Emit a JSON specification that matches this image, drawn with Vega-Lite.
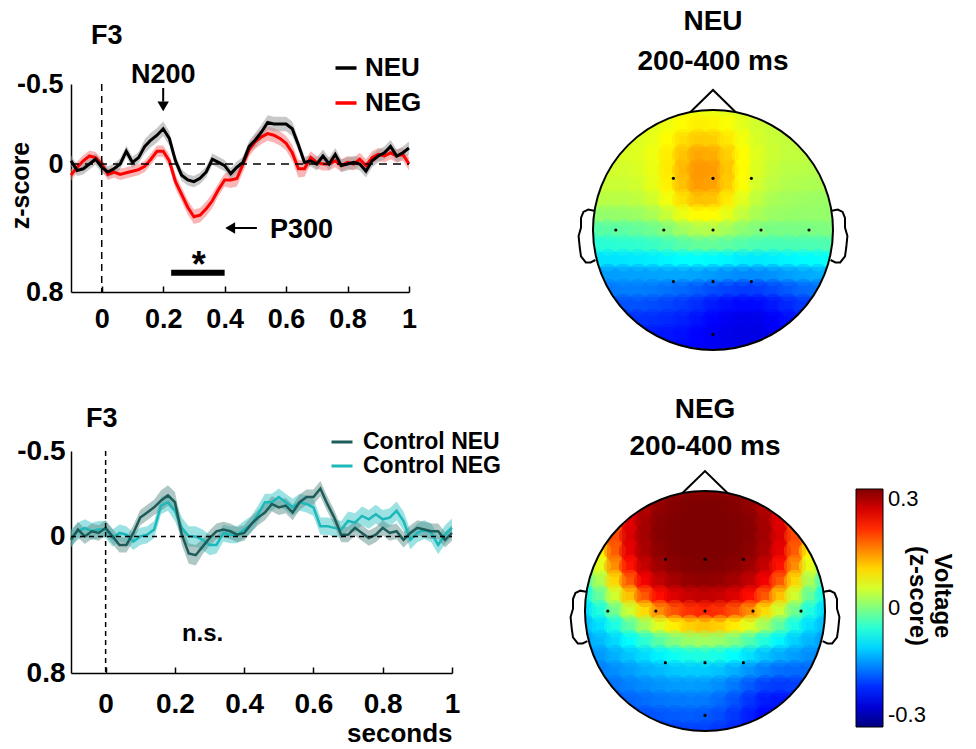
{
"$schema":"https://vega.github.io/schema/vega-lite/v6.json",
"background":"white",
"padding":{"left":8,"top":8,"right":0,"bottom":0},
"config":{"view":{"stroke":null},"font":"Liberation Sans",
"axis":{"grid":false,"domainColor":"black","domainWidth":1.5,"labelColor":"black","titleColor":"black","labelFont":"Liberation Sans","titleFont":"Liberation Sans","labelFontWeight":"bold","titleFontWeight":"bold","tickColor":"black"},
"title":{"font":"Liberation Sans","color":"black","subtitleFont":"Liberation Sans","subtitleColor":"black"},
"legend":{"labelColor":"black","titleColor":"black","labelFont":"Liberation Sans","titleFont":"Liberation Sans"}},
"datasets":{
"erp1":[
{"t":-0.1,"s":"NEG","v":0.07,"w":0.035},{"t":-0.08,"s":"NEG","v":0.02,"w":0.035},{"t":-0.06,"s":"NEG","v":-0.02,"w":0.035},{"t":-0.04,"s":"NEG","v":-0.05,"w":0.035},{"t":-0.02,"s":"NEG","v":-0.04,"w":0.035},{"t":0,"s":"NEG","v":0,"w":0.035},{"t":0.02,"s":"NEG","v":0.065,"w":0.035},{"t":0.04,"s":"NEG","v":0.05,"w":0.035},{"t":0.06,"s":"NEG","v":0.065,"w":0.035},{"t":0.08,"s":"NEG","v":0.055,"w":0.035},{"t":0.1,"s":"NEG","v":0.045,"w":0.035},{"t":0.12,"s":"NEG","v":0.035,"w":0.035},{"t":0.14,"s":"NEG","v":0.015,"w":0.035},{"t":0.16,"s":"NEG","v":-0.03,"w":0.035},{"t":0.18,"s":"NEG","v":-0.08,"w":0.035},{"t":0.2,"s":"NEG","v":-0.08,"w":0.035},{"t":0.22,"s":"NEG","v":-0.02,"w":0.04},{"t":0.24,"s":"NEG","v":0.11,"w":0.045},{"t":0.26,"s":"NEG","v":0.19,"w":0.045},{"t":0.28,"s":"NEG","v":0.27,"w":0.045},{"t":0.3,"s":"NEG","v":0.33,"w":0.045},{"t":0.32,"s":"NEG","v":0.32,"w":0.045},{"t":0.34,"s":"NEG","v":0.28,"w":0.045},{"t":0.36,"s":"NEG","v":0.23,"w":0.045},{"t":0.38,"s":"NEG","v":0.16,"w":0.04},{"t":0.4,"s":"NEG","v":0.1,"w":0.04},{"t":0.42,"s":"NEG","v":0.1,"w":0.05},{"t":0.44,"s":"NEG","v":0.09,"w":0.05},{"t":0.46,"s":"NEG","v":0,"w":0.05},{"t":0.48,"s":"NEG","v":-0.09,"w":0.04},{"t":0.5,"s":"NEG","v":-0.14,"w":0.045},{"t":0.52,"s":"NEG","v":-0.17,"w":0.045},{"t":0.54,"s":"NEG","v":-0.19,"w":0.045},{"t":0.56,"s":"NEG","v":-0.18,"w":0.045},{"t":0.58,"s":"NEG","v":-0.16,"w":0.045},{"t":0.6,"s":"NEG","v":-0.13,"w":0.045},{"t":0.62,"s":"NEG","v":-0.07,"w":0.05},{"t":0.64,"s":"NEG","v":0.03,"w":0.055},{"t":0.66,"s":"NEG","v":0.03,"w":0.05},{"t":0.68,"s":"NEG","v":-0.04,"w":0.04},{"t":0.7,"s":"NEG","v":-0.01,"w":0.04},{"t":0.72,"s":"NEG","v":0,"w":0.04},{"t":0.74,"s":"NEG","v":0,"w":0.04},{"t":0.76,"s":"NEG","v":-0.02,"w":0.04},{"t":0.78,"s":"NEG","v":0.01,"w":0.04},{"t":0.8,"s":"NEG","v":-0.01,"w":0.04},{"t":0.82,"s":"NEG","v":0,"w":0.04},{"t":0.84,"s":"NEG","v":-0.03,"w":0.04},{"t":0.86,"s":"NEG","v":0.01,"w":0.04},{"t":0.88,"s":"NEG","v":-0.04,"w":0.04},{"t":0.9,"s":"NEG","v":-0.06,"w":0.04},{"t":0.92,"s":"NEG","v":-0.05,"w":0.04},{"t":0.94,"s":"NEG","v":-0.07,"w":0.04},{"t":0.96,"s":"NEG","v":-0.05,"w":0.04},{"t":0.98,"s":"NEG","v":-0.06,"w":0.04},{"t":1,"s":"NEG","v":0,"w":0.04},
{"t":-0.1,"s":"NEU","v":-0.02,"w":0.035},{"t":-0.08,"s":"NEU","v":0.04,"w":0.035},{"t":-0.06,"s":"NEU","v":0.03,"w":0.035},{"t":-0.04,"s":"NEU","v":0,"w":0.035},{"t":-0.02,"s":"NEU","v":-0.03,"w":0.035},{"t":0,"s":"NEU","v":0.02,"w":0.035},{"t":0.02,"s":"NEU","v":0.05,"w":0.035},{"t":0.04,"s":"NEU","v":0.03,"w":0.035},{"t":0.06,"s":"NEU","v":0,"w":0.035},{"t":0.08,"s":"NEU","v":-0.08,"w":0.035},{"t":0.1,"s":"NEU","v":-0.01,"w":0.035},{"t":0.12,"s":"NEU","v":-0.04,"w":0.035},{"t":0.14,"s":"NEU","v":-0.11,"w":0.045},{"t":0.16,"s":"NEU","v":-0.15,"w":0.045},{"t":0.18,"s":"NEU","v":-0.18,"w":0.045},{"t":0.2,"s":"NEU","v":-0.22,"w":0.045},{"t":0.22,"s":"NEU","v":-0.16,"w":0.045},{"t":0.24,"s":"NEU","v":-0.02,"w":0.035},{"t":0.26,"s":"NEU","v":0.07,"w":0.035},{"t":0.28,"s":"NEU","v":0.1,"w":0.035},{"t":0.3,"s":"NEU","v":0.11,"w":0.035},{"t":0.32,"s":"NEU","v":0.09,"w":0.035},{"t":0.34,"s":"NEU","v":0.05,"w":0.035},{"t":0.36,"s":"NEU","v":-0.03,"w":0.035},{"t":0.38,"s":"NEU","v":-0.01,"w":0.035},{"t":0.4,"s":"NEU","v":0.01,"w":0.035},{"t":0.42,"s":"NEU","v":0.06,"w":0.035},{"t":0.44,"s":"NEU","v":0.02,"w":0.035},{"t":0.46,"s":"NEU","v":-0.01,"w":0.035},{"t":0.48,"s":"NEU","v":-0.11,"w":0.035},{"t":0.5,"s":"NEU","v":-0.15,"w":0.045},{"t":0.52,"s":"NEU","v":-0.2,"w":0.045},{"t":0.54,"s":"NEU","v":-0.26,"w":0.045},{"t":0.56,"s":"NEU","v":-0.25,"w":0.045},{"t":0.58,"s":"NEU","v":-0.25,"w":0.045},{"t":0.6,"s":"NEU","v":-0.25,"w":0.045},{"t":0.62,"s":"NEU","v":-0.22,"w":0.045},{"t":0.64,"s":"NEU","v":-0.12,"w":0.035},{"t":0.66,"s":"NEU","v":-0.01,"w":0.035},{"t":0.68,"s":"NEU","v":-0.02,"w":0.035},{"t":0.7,"s":"NEU","v":0,"w":0.04},{"t":0.72,"s":"NEU","v":-0.05,"w":0.04},{"t":0.74,"s":"NEU","v":0,"w":0.04},{"t":0.76,"s":"NEU","v":-0.06,"w":0.04},{"t":0.78,"s":"NEU","v":0.01,"w":0.04},{"t":0.8,"s":"NEU","v":0,"w":0.04},{"t":0.82,"s":"NEU","v":-0.01,"w":0.04},{"t":0.84,"s":"NEU","v":0,"w":0.04},{"t":0.86,"s":"NEU","v":0.045,"w":0.04},{"t":0.88,"s":"NEU","v":-0.02,"w":0.04},{"t":0.9,"s":"NEU","v":-0.05,"w":0.04},{"t":0.92,"s":"NEU","v":-0.07,"w":0.04},{"t":0.94,"s":"NEU","v":-0.11,"w":0.04},{"t":0.96,"s":"NEU","v":-0.05,"w":0.04},{"t":0.98,"s":"NEU","v":-0.07,"w":0.04},{"t":1,"s":"NEU","v":-0.1,"w":0.04}],
"erp2":[
{"t":-0.1,"s":"Control NEG","v":0.01,"w":0.05},{"t":-0.08,"s":"Control NEG","v":-0.03,"w":0.05},{"t":-0.06,"s":"Control NEG","v":-0.05,"w":0.05},{"t":-0.04,"s":"Control NEG","v":-0.03,"w":0.05},{"t":-0.02,"s":"Control NEG","v":-0.04,"w":0.05},{"t":0,"s":"Control NEG","v":-0.04,"w":0.05},{"t":0.02,"s":"Control NEG","v":0.01,"w":0.05},{"t":0.04,"s":"Control NEG","v":-0.02,"w":0.05},{"t":0.06,"s":"Control NEG","v":-0.01,"w":0.05},{"t":0.08,"s":"Control NEG","v":0.03,"w":0.05},{"t":0.1,"s":"Control NEG","v":0,"w":0.05},{"t":0.12,"s":"Control NEG","v":-0.01,"w":0.05},{"t":0.14,"s":"Control NEG","v":-0.04,"w":0.05},{"t":0.16,"s":"Control NEG","v":-0.18,"w":0.05},{"t":0.18,"s":"Control NEG","v":-0.2,"w":0.05},{"t":0.2,"s":"Control NEG","v":-0.15,"w":0.06},{"t":0.22,"s":"Control NEG","v":-0.05,"w":0.06},{"t":0.24,"s":"Control NEG","v":0,"w":0.06},{"t":0.26,"s":"Control NEG","v":0,"w":0.06},{"t":0.28,"s":"Control NEG","v":0.02,"w":0.06},{"t":0.3,"s":"Control NEG","v":0.05,"w":0.06},{"t":0.32,"s":"Control NEG","v":0.05,"w":0.05},{"t":0.34,"s":"Control NEG","v":-0.02,"w":0.05},{"t":0.36,"s":"Control NEG","v":-0.01,"w":0.05},{"t":0.38,"s":"Control NEG","v":-0.01,"w":0.05},{"t":0.4,"s":"Control NEG","v":-0.04,"w":0.05},{"t":0.42,"s":"Control NEG","v":-0.07,"w":0.05},{"t":0.44,"s":"Control NEG","v":-0.13,"w":0.05},{"t":0.46,"s":"Control NEG","v":-0.2,"w":0.05},{"t":0.48,"s":"Control NEG","v":-0.2,"w":0.05},{"t":0.5,"s":"Control NEG","v":-0.23,"w":0.05},{"t":0.52,"s":"Control NEG","v":-0.2,"w":0.05},{"t":0.54,"s":"Control NEG","v":-0.17,"w":0.05},{"t":0.56,"s":"Control NEG","v":-0.2,"w":0.05},{"t":0.58,"s":"Control NEG","v":-0.19,"w":0.05},{"t":0.6,"s":"Control NEG","v":-0.17,"w":0.05},{"t":0.62,"s":"Control NEG","v":-0.06,"w":0.05},{"t":0.64,"s":"Control NEG","v":-0.06,"w":0.05},{"t":0.66,"s":"Control NEG","v":-0.05,"w":0.05},{"t":0.68,"s":"Control NEG","v":-0.04,"w":0.05},{"t":0.7,"s":"Control NEG","v":-0.09,"w":0.055},{"t":0.72,"s":"Control NEG","v":-0.08,"w":0.055},{"t":0.74,"s":"Control NEG","v":-0.12,"w":0.055},{"t":0.76,"s":"Control NEG","v":-0.1,"w":0.055},{"t":0.78,"s":"Control NEG","v":-0.13,"w":0.055},{"t":0.8,"s":"Control NEG","v":-0.1,"w":0.055},{"t":0.82,"s":"Control NEG","v":-0.11,"w":0.055},{"t":0.84,"s":"Control NEG","v":-0.15,"w":0.055},{"t":0.86,"s":"Control NEG","v":-0.09,"w":0.055},{"t":0.88,"s":"Control NEG","v":0.02,"w":0.055},{"t":0.9,"s":"Control NEG","v":-0.02,"w":0.055},{"t":0.92,"s":"Control NEG","v":-0.04,"w":0.055},{"t":0.94,"s":"Control NEG","v":-0.02,"w":0.055},{"t":0.96,"s":"Control NEG","v":0.05,"w":0.055},{"t":0.98,"s":"Control NEG","v":-0.01,"w":0.055},{"t":1,"s":"Control NEG","v":-0.05,"w":0.055},
{"t":-0.1,"s":"Control NEU","v":0.02,"w":0.045},{"t":-0.08,"s":"Control NEU","v":-0.04,"w":0.045},{"t":-0.06,"s":"Control NEU","v":0,"w":0.045},{"t":-0.04,"s":"Control NEU","v":-0.03,"w":0.045},{"t":-0.02,"s":"Control NEU","v":-0.02,"w":0.045},{"t":0,"s":"Control NEU","v":-0.05,"w":0.045},{"t":0.02,"s":"Control NEU","v":0,"w":0.045},{"t":0.04,"s":"Control NEU","v":0.05,"w":0.045},{"t":0.06,"s":"Control NEU","v":0.05,"w":0.045},{"t":0.08,"s":"Control NEU","v":-0.02,"w":0.045},{"t":0.1,"s":"Control NEU","v":-0.11,"w":0.045},{"t":0.12,"s":"Control NEU","v":-0.14,"w":0.045},{"t":0.14,"s":"Control NEU","v":-0.17,"w":0.045},{"t":0.16,"s":"Control NEU","v":-0.21,"w":0.06},{"t":0.18,"s":"Control NEU","v":-0.24,"w":0.06},{"t":0.2,"s":"Control NEU","v":-0.2,"w":0.06},{"t":0.22,"s":"Control NEU","v":-0.01,"w":0.06},{"t":0.24,"s":"Control NEU","v":0.1,"w":0.06},{"t":0.26,"s":"Control NEU","v":0.11,"w":0.06},{"t":0.28,"s":"Control NEU","v":0.06,"w":0.045},{"t":0.3,"s":"Control NEU","v":0.01,"w":0.045},{"t":0.32,"s":"Control NEU","v":-0.03,"w":0.045},{"t":0.34,"s":"Control NEU","v":-0.04,"w":0.045},{"t":0.36,"s":"Control NEU","v":-0.03,"w":0.045},{"t":0.38,"s":"Control NEU","v":-0.01,"w":0.045},{"t":0.4,"s":"Control NEU","v":-0.02,"w":0.045},{"t":0.42,"s":"Control NEU","v":-0.07,"w":0.045},{"t":0.44,"s":"Control NEU","v":-0.11,"w":0.045},{"t":0.46,"s":"Control NEU","v":-0.14,"w":0.045},{"t":0.48,"s":"Control NEU","v":-0.19,"w":0.045},{"t":0.5,"s":"Control NEU","v":-0.17,"w":0.045},{"t":0.52,"s":"Control NEU","v":-0.18,"w":0.045},{"t":0.54,"s":"Control NEU","v":-0.14,"w":0.045},{"t":0.56,"s":"Control NEU","v":-0.2,"w":0.045},{"t":0.58,"s":"Control NEU","v":-0.23,"w":0.045},{"t":0.6,"s":"Control NEU","v":-0.23,"w":0.045},{"t":0.62,"s":"Control NEU","v":-0.28,"w":0.045},{"t":0.64,"s":"Control NEU","v":-0.19,"w":0.045},{"t":0.66,"s":"Control NEU","v":-0.11,"w":0.045},{"t":0.68,"s":"Control NEU","v":-0.01,"w":0.045},{"t":0.7,"s":"Control NEU","v":-0.01,"w":0.045},{"t":0.72,"s":"Control NEU","v":-0.05,"w":0.045},{"t":0.74,"s":"Control NEU","v":-0.02,"w":0.045},{"t":0.76,"s":"Control NEU","v":0.01,"w":0.045},{"t":0.78,"s":"Control NEU","v":-0.01,"w":0.045},{"t":0.8,"s":"Control NEU","v":-0.05,"w":0.045},{"t":0.82,"s":"Control NEU","v":-0.02,"w":0.045},{"t":0.84,"s":"Control NEU","v":-0.03,"w":0.045},{"t":0.86,"s":"Control NEU","v":0.02,"w":0.045},{"t":0.88,"s":"Control NEU","v":-0.02,"w":0.045},{"t":0.9,"s":"Control NEU","v":-0.05,"w":0.045},{"t":0.92,"s":"Control NEU","v":-0.04,"w":0.045},{"t":0.94,"s":"Control NEU","v":-0.03,"w":0.045},{"t":0.96,"s":"Control NEU","v":-0.03,"w":0.045},{"t":0.98,"s":"Control NEU","v":0.02,"w":0.045},{"t":1,"s":"Control NEU","v":-0.02,"w":0.045}],
"neu":[
{"i":-3,"j":8,"v":0.059},{"i":-2,"j":8,"v":0.064},{"i":-1,"j":8,"v":0.067},{"i":0,"j":8,"v":0.065},{"i":1,"j":8,"v":0.059},{"i":2,"j":8,"v":0.052},{"i":3,"j":8,"v":0.045},
{"i":-5,"j":7,"v":0.054},{"i":-4,"j":7,"v":0.058},{"i":-3,"j":7,"v":0.066},{"i":-2,"j":7,"v":0.077},{"i":-1,"j":7,"v":0.084},{"i":0,"j":7,"v":0.082},{"i":1,"j":7,"v":0.072},{"i":2,"j":7,"v":0.059},{"i":3,"j":7,"v":0.048},{"i":4,"j":7,"v":0.042},{"i":5,"j":7,"v":0.04},
{"i":-6,"j":6,"v":0.054},{"i":-5,"j":6,"v":0.055},{"i":-4,"j":6,"v":0.062},{"i":-3,"j":6,"v":0.076},{"i":-2,"j":6,"v":0.094},{"i":-1,"j":6,"v":0.105},{"i":0,"j":6,"v":0.103},{"i":1,"j":6,"v":0.088},{"i":2,"j":6,"v":0.068},{"i":3,"j":6,"v":0.052},{"i":4,"j":6,"v":0.044},{"i":5,"j":6,"v":0.04},{"i":6,"j":6,"v":0.038},
{"i":-7,"j":5,"v":0.054},{"i":-6,"j":5,"v":0.054},{"i":-5,"j":5,"v":0.057},{"i":-4,"j":5,"v":0.066},{"i":-3,"j":5,"v":0.085},{"i":-2,"j":5,"v":0.11},{"i":-1,"j":5,"v":0.127},{"i":0,"j":5,"v":0.124},{"i":1,"j":5,"v":0.103},{"i":2,"j":5,"v":0.076},{"i":3,"j":5,"v":0.056},{"i":4,"j":5,"v":0.045},{"i":5,"j":5,"v":0.04},{"i":6,"j":5,"v":0.038},{"i":7,"j":5,"v":0.036},
{"i":-7,"j":4,"v":0.049},{"i":-6,"j":4,"v":0.049},{"i":-5,"j":4,"v":0.053},{"i":-4,"j":4,"v":0.064},{"i":-3,"j":4,"v":0.087},{"i":-2,"j":4,"v":0.116},{"i":-1,"j":4,"v":0.136},{"i":0,"j":4,"v":0.133},{"i":1,"j":4,"v":0.109},{"i":2,"j":4,"v":0.077},{"i":3,"j":4,"v":0.054},{"i":4,"j":4,"v":0.041},{"i":5,"j":4,"v":0.035},{"i":6,"j":4,"v":0.033},{"i":7,"j":4,"v":0.031},
{"i":-8,"j":3,"v":0.045},{"i":-7,"j":3,"v":0.044},{"i":-6,"j":3,"v":0.044},{"i":-5,"j":3,"v":0.048},{"i":-4,"j":3,"v":0.06},{"i":-3,"j":3,"v":0.083},{"i":-2,"j":3,"v":0.112},{"i":-1,"j":3,"v":0.133},{"i":0,"j":3,"v":0.13},{"i":1,"j":3,"v":0.105},{"i":2,"j":3,"v":0.073},{"i":3,"j":3,"v":0.049},{"i":4,"j":3,"v":0.036},{"i":5,"j":3,"v":0.03},{"i":6,"j":3,"v":0.028},{"i":7,"j":3,"v":0.026},{"i":8,"j":3,"v":0.025},
{"i":-8,"j":2,"v":0.035},{"i":-7,"j":2,"v":0.034},{"i":-6,"j":2,"v":0.034},{"i":-5,"j":2,"v":0.037},{"i":-4,"j":2,"v":0.048},{"i":-3,"j":2,"v":0.068},{"i":-2,"j":2,"v":0.094},{"i":-1,"j":2,"v":0.111},{"i":0,"j":2,"v":0.109},{"i":1,"j":2,"v":0.087},{"i":2,"j":2,"v":0.058},{"i":3,"j":2,"v":0.037},{"i":4,"j":2,"v":0.025},{"i":5,"j":2,"v":0.02},{"i":6,"j":2,"v":0.018},{"i":7,"j":2,"v":0.016},{"i":8,"j":2,"v":0.015},
{"i":-8,"j":1,"v":0.012},{"i":-7,"j":1,"v":0.012},{"i":-6,"j":1,"v":0.013},{"i":-5,"j":1,"v":0.017},{"i":-4,"j":1,"v":0.025},{"i":-3,"j":1,"v":0.042},{"i":-2,"j":1,"v":0.063},{"i":-1,"j":1,"v":0.077},{"i":0,"j":1,"v":0.076},{"i":1,"j":1,"v":0.06},{"i":2,"j":1,"v":0.04},{"i":3,"j":1,"v":0.024},{"i":4,"j":1,"v":0.016},{"i":5,"j":1,"v":0.013},{"i":6,"j":1,"v":0.012},{"i":7,"j":1,"v":0.012},{"i":8,"j":1,"v":0.012},
{"i":-8,"j":0,"v":-0.024},{"i":-7,"j":0,"v":-0.022},{"i":-6,"j":0,"v":-0.02},{"i":-5,"j":0,"v":-0.016},{"i":-4,"j":0,"v":-0.009},{"i":-3,"j":0,"v":0.003},{"i":-2,"j":0,"v":0.019},{"i":-1,"j":0,"v":0.03},{"i":0,"j":0,"v":0.031},{"i":1,"j":0,"v":0.022},{"i":2,"j":0,"v":0.009},{"i":3,"j":0,"v":0.001},{"i":4,"j":0,"v":-0.003},{"i":5,"j":0,"v":-0.004},{"i":6,"j":0,"v":-0.003},{"i":7,"j":0,"v":-0.002},{"i":8,"j":0,"v":0},
{"i":-8,"j":-1,"v":-0.052},{"i":-7,"j":-1,"v":-0.051},{"i":-6,"j":-1,"v":-0.049},{"i":-5,"j":-1,"v":-0.046},{"i":-4,"j":-1,"v":-0.041},{"i":-3,"j":-1,"v":-0.033},{"i":-2,"j":-1,"v":-0.024},{"i":-1,"j":-1,"v":-0.017},{"i":0,"j":-1,"v":-0.016},{"i":1,"j":-1,"v":-0.02},{"i":2,"j":-1,"v":-0.027},{"i":3,"j":-1,"v":-0.031},{"i":4,"j":-1,"v":-0.033},{"i":5,"j":-1,"v":-0.032},{"i":6,"j":-1,"v":-0.031},{"i":7,"j":-1,"v":-0.03},{"i":8,"j":-1,"v":-0.028},
{"i":-8,"j":-2,"v":-0.092},{"i":-7,"j":-2,"v":-0.091},{"i":-6,"j":-2,"v":-0.089},{"i":-5,"j":-2,"v":-0.087},{"i":-4,"j":-2,"v":-0.084},{"i":-3,"j":-2,"v":-0.08},{"i":-2,"j":-2,"v":-0.075},{"i":-1,"j":-2,"v":-0.074},{"i":0,"j":-2,"v":-0.076},{"i":1,"j":-2,"v":-0.08},{"i":2,"j":-2,"v":-0.085},{"i":3,"j":-2,"v":-0.086},{"i":4,"j":-2,"v":-0.084},{"i":5,"j":-2,"v":-0.08},{"i":6,"j":-2,"v":-0.076},{"i":7,"j":-2,"v":-0.073},{"i":8,"j":-2,"v":-0.069},
{"i":-8,"j":-3,"v":-0.133},{"i":-7,"j":-3,"v":-0.132},{"i":-6,"j":-3,"v":-0.131},{"i":-5,"j":-3,"v":-0.13},{"i":-4,"j":-3,"v":-0.129},{"i":-3,"j":-3,"v":-0.127},{"i":-2,"j":-3,"v":-0.127},{"i":-1,"j":-3,"v":-0.129},{"i":0,"j":-3,"v":-0.133},{"i":1,"j":-3,"v":-0.139},{"i":2,"j":-3,"v":-0.143},{"i":3,"j":-3,"v":-0.143},{"i":4,"j":-3,"v":-0.139},{"i":5,"j":-3,"v":-0.132},{"i":6,"j":-3,"v":-0.126},{"i":7,"j":-3,"v":-0.122},{"i":8,"j":-3,"v":-0.119},
{"i":-7,"j":-4,"v":-0.155},{"i":-6,"j":-4,"v":-0.151},{"i":-5,"j":-4,"v":-0.151},{"i":-4,"j":-4,"v":-0.153},{"i":-3,"j":-4,"v":-0.158},{"i":-2,"j":-4,"v":-0.164},{"i":-1,"j":-4,"v":-0.171},{"i":0,"j":-4,"v":-0.18},{"i":1,"j":-4,"v":-0.186},{"i":2,"j":-4,"v":-0.19},{"i":3,"j":-4,"v":-0.189},{"i":4,"j":-4,"v":-0.182},{"i":5,"j":-4,"v":-0.173},{"i":6,"j":-4,"v":-0.164},{"i":7,"j":-4,"v":-0.158},
{"i":-7,"j":-5,"v":-0.181},{"i":-6,"j":-5,"v":-0.178},{"i":-5,"j":-5,"v":-0.177},{"i":-4,"j":-5,"v":-0.18},{"i":-3,"j":-5,"v":-0.185},{"i":-2,"j":-5,"v":-0.191},{"i":-1,"j":-5,"v":-0.199},{"i":0,"j":-5,"v":-0.209},{"i":1,"j":-5,"v":-0.217},{"i":2,"j":-5,"v":-0.221},{"i":3,"j":-5,"v":-0.22},{"i":4,"j":-5,"v":-0.212},{"i":5,"j":-5,"v":-0.202},{"i":6,"j":-5,"v":-0.192},{"i":7,"j":-5,"v":-0.184},
{"i":-6,"j":-6,"v":-0.196},{"i":-5,"j":-6,"v":-0.196},{"i":-4,"j":-6,"v":-0.198},{"i":-3,"j":-6,"v":-0.202},{"i":-2,"j":-6,"v":-0.207},{"i":-1,"j":-6,"v":-0.215},{"i":0,"j":-6,"v":-0.224},{"i":1,"j":-6,"v":-0.232},{"i":2,"j":-6,"v":-0.237},{"i":3,"j":-6,"v":-0.236},{"i":4,"j":-6,"v":-0.228},{"i":5,"j":-6,"v":-0.217},{"i":6,"j":-6,"v":-0.207},
{"i":-5,"j":-7,"v":-0.209},{"i":-4,"j":-7,"v":-0.211},{"i":-3,"j":-7,"v":-0.213},{"i":-2,"j":-7,"v":-0.217},{"i":-1,"j":-7,"v":-0.223},{"i":0,"j":-7,"v":-0.231},{"i":1,"j":-7,"v":-0.238},{"i":2,"j":-7,"v":-0.241},{"i":3,"j":-7,"v":-0.24},{"i":4,"j":-7,"v":-0.233},{"i":5,"j":-7,"v":-0.224},
{"i":-3,"j":-8,"v":-0.22},{"i":-2,"j":-8,"v":-0.222},{"i":-1,"j":-8,"v":-0.225},{"i":0,"j":-8,"v":-0.23},{"i":1,"j":-8,"v":-0.235},{"i":2,"j":-8,"v":-0.237},{"i":3,"j":-8,"v":-0.236}],
"neg":[
{"i":-3,"j":8,"v":0.272},{"i":-2,"j":8,"v":0.287},{"i":-1,"j":8,"v":0.293},{"i":0,"j":8,"v":0.294},{"i":1,"j":8,"v":0.293},{"i":2,"j":8,"v":0.287},{"i":3,"j":8,"v":0.272},
{"i":-5,"j":7,"v":0.228},{"i":-4,"j":7,"v":0.268},{"i":-3,"j":7,"v":0.288},{"i":-2,"j":7,"v":0.296},{"i":-1,"j":7,"v":0.299},{"i":0,"j":7,"v":0.3},{"i":1,"j":7,"v":0.299},{"i":2,"j":7,"v":0.296},{"i":3,"j":7,"v":0.288},{"i":4,"j":7,"v":0.268},{"i":5,"j":7,"v":0.228},
{"i":-6,"j":6,"v":0.177},{"i":-5,"j":6,"v":0.243},{"i":-4,"j":6,"v":0.277},{"i":-3,"j":6,"v":0.294},{"i":-2,"j":6,"v":0.299},{"i":-1,"j":6,"v":0.3},{"i":0,"j":6,"v":0.3},{"i":1,"j":6,"v":0.3},{"i":2,"j":6,"v":0.299},{"i":3,"j":6,"v":0.294},{"i":4,"j":6,"v":0.277},{"i":5,"j":6,"v":0.243},{"i":6,"j":6,"v":0.177},
{"i":-7,"j":5,"v":0.093},{"i":-6,"j":5,"v":0.182},{"i":-5,"j":5,"v":0.246},{"i":-4,"j":5,"v":0.279},{"i":-3,"j":5,"v":0.295},{"i":-2,"j":5,"v":0.299},{"i":-1,"j":5,"v":0.3},{"i":0,"j":5,"v":0.3},{"i":1,"j":5,"v":0.3},{"i":2,"j":5,"v":0.299},{"i":3,"j":5,"v":0.295},{"i":4,"j":5,"v":0.279},{"i":5,"j":5,"v":0.246},{"i":6,"j":5,"v":0.182},{"i":7,"j":5,"v":0.093},
{"i":-7,"j":4,"v":0.084},{"i":-6,"j":4,"v":0.171},{"i":-5,"j":4,"v":0.239},{"i":-4,"j":4,"v":0.274},{"i":-3,"j":4,"v":0.292},{"i":-2,"j":4,"v":0.299},{"i":-1,"j":4,"v":0.3},{"i":0,"j":4,"v":0.3},{"i":1,"j":4,"v":0.3},{"i":2,"j":4,"v":0.299},{"i":3,"j":4,"v":0.292},{"i":4,"j":4,"v":0.274},{"i":5,"j":4,"v":0.239},{"i":6,"j":4,"v":0.171},{"i":7,"j":4,"v":0.084},
{"i":-8,"j":3,"v":-0.013},{"i":-7,"j":3,"v":0.061},{"i":-6,"j":3,"v":0.142},{"i":-5,"j":3,"v":0.215},{"i":-4,"j":3,"v":0.259},{"i":-3,"j":3,"v":0.282},{"i":-2,"j":3,"v":0.293},{"i":-1,"j":3,"v":0.298},{"i":0,"j":3,"v":0.299},{"i":1,"j":3,"v":0.298},{"i":2,"j":3,"v":0.293},{"i":3,"j":3,"v":0.282},{"i":4,"j":3,"v":0.259},{"i":5,"j":3,"v":0.215},{"i":6,"j":3,"v":0.142},{"i":7,"j":3,"v":0.061},{"i":8,"j":3,"v":-0.013},
{"i":-8,"j":2,"v":-0.041},{"i":-7,"j":2,"v":0.027},{"i":-6,"j":2,"v":0.098},{"i":-5,"j":2,"v":0.173},{"i":-4,"j":2,"v":0.231},{"i":-3,"j":2,"v":0.261},{"i":-2,"j":2,"v":0.278},{"i":-1,"j":2,"v":0.287},{"i":0,"j":2,"v":0.29},{"i":1,"j":2,"v":0.287},{"i":2,"j":2,"v":0.278},{"i":3,"j":2,"v":0.261},{"i":4,"j":2,"v":0.231},{"i":5,"j":2,"v":0.173},{"i":6,"j":2,"v":0.098},{"i":7,"j":2,"v":0.027},{"i":8,"j":2,"v":-0.041},
{"i":-8,"j":1,"v":-0.067},{"i":-7,"j":1,"v":-0.015},{"i":-6,"j":1,"v":0.048},{"i":-5,"j":1,"v":0.111},{"i":-4,"j":1,"v":0.174},{"i":-3,"j":1,"v":0.218},{"i":-2,"j":1,"v":0.245},{"i":-1,"j":1,"v":0.257},{"i":0,"j":1,"v":0.261},{"i":1,"j":1,"v":0.257},{"i":2,"j":1,"v":0.245},{"i":3,"j":1,"v":0.218},{"i":4,"j":1,"v":0.174},{"i":5,"j":1,"v":0.111},{"i":6,"j":1,"v":0.048},{"i":7,"j":1,"v":-0.015},{"i":8,"j":1,"v":-0.067},
{"i":-8,"j":0,"v":-0.094},{"i":-7,"j":0,"v":-0.057},{"i":-6,"j":0,"v":-0.008},{"i":-5,"j":0,"v":0.046},{"i":-4,"j":0,"v":0.096},{"i":-3,"j":0,"v":0.143},{"i":-2,"j":0,"v":0.177},{"i":-1,"j":0,"v":0.196},{"i":0,"j":0,"v":0.203},{"i":1,"j":0,"v":0.196},{"i":2,"j":0,"v":0.177},{"i":3,"j":0,"v":0.143},{"i":4,"j":0,"v":0.096},{"i":5,"j":0,"v":0.046},{"i":6,"j":0,"v":-0.008},{"i":7,"j":0,"v":-0.057},{"i":8,"j":0,"v":-0.094},
{"i":-8,"j":-1,"v":-0.114},{"i":-7,"j":-1,"v":-0.093},{"i":-6,"j":-1,"v":-0.06},{"i":-5,"j":-1,"v":-0.02},{"i":-4,"j":-1,"v":0.021},{"i":-3,"j":-1,"v":0.057},{"i":-2,"j":-1,"v":0.085},{"i":-1,"j":-1,"v":0.103},{"i":0,"j":-1,"v":0.11},{"i":1,"j":-1,"v":0.103},{"i":2,"j":-1,"v":0.085},{"i":3,"j":-1,"v":0.057},{"i":4,"j":-1,"v":0.021},{"i":5,"j":-1,"v":-0.02},{"i":6,"j":-1,"v":-0.06},{"i":7,"j":-1,"v":-0.093},{"i":8,"j":-1,"v":-0.114},
{"i":-8,"j":-2,"v":-0.131},{"i":-7,"j":-2,"v":-0.115},{"i":-6,"j":-2,"v":-0.097},{"i":-5,"j":-2,"v":-0.074},{"i":-4,"j":-2,"v":-0.049},{"i":-3,"j":-2,"v":-0.021},{"i":-2,"j":-2,"v":0.002},{"i":-1,"j":-2,"v":0.015},{"i":0,"j":-2,"v":0.02},{"i":1,"j":-2,"v":0.014},{"i":2,"j":-2,"v":-0.001},{"i":3,"j":-2,"v":-0.026},{"i":4,"j":-2,"v":-0.055},{"i":5,"j":-2,"v":-0.08},{"i":6,"j":-2,"v":-0.102},{"i":7,"j":-2,"v":-0.118},{"i":8,"j":-2,"v":-0.132},
{"i":-8,"j":-3,"v":-0.146},{"i":-7,"j":-3,"v":-0.135},{"i":-6,"j":-3,"v":-0.121},{"i":-5,"j":-3,"v":-0.108},{"i":-4,"j":-3,"v":-0.095},{"i":-3,"j":-3,"v":-0.081},{"i":-2,"j":-3,"v":-0.068},{"i":-1,"j":-3,"v":-0.059},{"i":0,"j":-3,"v":-0.057},{"i":1,"j":-3,"v":-0.062},{"i":2,"j":-3,"v":-0.075},{"i":3,"j":-3,"v":-0.093},{"i":4,"j":-3,"v":-0.11},{"i":5,"j":-3,"v":-0.123},{"i":6,"j":-3,"v":-0.132},{"i":7,"j":-3,"v":-0.141},{"i":8,"j":-3,"v":-0.149},
{"i":-7,"j":-4,"v":-0.15},{"i":-6,"j":-4,"v":-0.141},{"i":-5,"j":-4,"v":-0.132},{"i":-4,"j":-4,"v":-0.122},{"i":-3,"j":-4,"v":-0.115},{"i":-2,"j":-4,"v":-0.108},{"i":-1,"j":-4,"v":-0.105},{"i":0,"j":-4,"v":-0.105},{"i":1,"j":-4,"v":-0.11},{"i":2,"j":-4,"v":-0.122},{"i":3,"j":-4,"v":-0.138},{"i":4,"j":-4,"v":-0.151},{"i":5,"j":-4,"v":-0.16},{"i":6,"j":-4,"v":-0.162},{"i":7,"j":-4,"v":-0.162},
{"i":-7,"j":-5,"v":-0.165},{"i":-6,"j":-5,"v":-0.157},{"i":-5,"j":-5,"v":-0.149},{"i":-4,"j":-5,"v":-0.143},{"i":-3,"j":-5,"v":-0.138},{"i":-2,"j":-5,"v":-0.134},{"i":-1,"j":-5,"v":-0.132},{"i":0,"j":-5,"v":-0.134},{"i":1,"j":-5,"v":-0.141},{"i":2,"j":-5,"v":-0.155},{"i":3,"j":-5,"v":-0.172},{"i":4,"j":-5,"v":-0.186},{"i":5,"j":-5,"v":-0.191},{"i":6,"j":-5,"v":-0.188},{"i":7,"j":-5,"v":-0.184},
{"i":-6,"j":-6,"v":-0.174},{"i":-5,"j":-6,"v":-0.167},{"i":-4,"j":-6,"v":-0.161},{"i":-3,"j":-6,"v":-0.156},{"i":-2,"j":-6,"v":-0.153},{"i":-1,"j":-6,"v":-0.152},{"i":0,"j":-6,"v":-0.154},{"i":1,"j":-6,"v":-0.162},{"i":2,"j":-6,"v":-0.176},{"i":3,"j":-6,"v":-0.195},{"i":4,"j":-6,"v":-0.21},{"i":5,"j":-6,"v":-0.214},{"i":6,"j":-6,"v":-0.209},
{"i":-5,"j":-7,"v":-0.183},{"i":-4,"j":-7,"v":-0.179},{"i":-3,"j":-7,"v":-0.174},{"i":-2,"j":-7,"v":-0.171},{"i":-1,"j":-7,"v":-0.17},{"i":0,"j":-7,"v":-0.173},{"i":1,"j":-7,"v":-0.179},{"i":2,"j":-7,"v":-0.192},{"i":3,"j":-7,"v":-0.208},{"i":4,"j":-7,"v":-0.222},{"i":5,"j":-7,"v":-0.225},
{"i":-3,"j":-8,"v":-0.189},{"i":-2,"j":-8,"v":-0.187},{"i":-1,"j":-8,"v":-0.186},{"i":0,"j":-8,"v":-0.187},{"i":1,"j":-8,"v":-0.192},{"i":2,"j":-8,"v":-0.201},{"i":3,"j":-8,"v":-0.212}],
"elec":[{"i":-2.64,"j":3.44},{"i":0,"j":3.44},{"i":2.56,"j":3.44},{"i":-6.48,"j":0},{"i":-3.28,"j":0},{"i":0,"j":0},{"i":3.2,"j":0},{"i":6.4,"j":0},{"i":-2.64,"j":-3.44},{"i":0,"j":-3.44},{"i":2.56,"j":-3.44},{"i":0,"j":-6.96}],
"head":[
{"part":"nose","o":0,"i":-1.52,"j":7.85},{"part":"nose","o":1,"i":0,"j":9.33},{"part":"nose","o":2,"i":1.52,"j":7.85},
{"part":"earL","o":0,"i":-7.92,"j":1.28},{"part":"earL","o":1,"i":-8.32,"j":1.36},{"part":"earL","o":2,"i":-8.64,"j":1.2},{"part":"earL","o":3,"i":-8.8,"j":0.8},{"part":"earL","o":4,"i":-8.8,"j":0.16},{"part":"earL","o":5,"i":-8.96,"j":-0.4},{"part":"earL","o":6,"i":-8.88,"j":-1.2},{"part":"earL","o":7,"i":-8.8,"j":-1.76},{"part":"earL","o":8,"i":-8.48,"j":-2.16},{"part":"earL","o":9,"i":-8.16,"j":-2.16},{"part":"earL","o":10,"i":-7.84,"j":-2.0},
{"part":"earR","o":0,"i":7.92,"j":1.28},{"part":"earR","o":1,"i":8.32,"j":1.36},{"part":"earR","o":2,"i":8.64,"j":1.2},{"part":"earR","o":3,"i":8.8,"j":0.8},{"part":"earR","o":4,"i":8.8,"j":0.16},{"part":"earR","o":5,"i":8.96,"j":-0.4},{"part":"earR","o":6,"i":8.88,"j":-1.2},{"part":"earR","o":7,"i":8.8,"j":-1.76},{"part":"earR","o":8,"i":8.48,"j":-2.16},{"part":"earR","o":9,"i":8.16,"j":-2.16},{"part":"earR","o":10,"i":7.84,"j":-2.0}]
},
"vconcat":[
{"hconcat":[
{"width":338,"height":208,
"data":{"name":"erp1"},
"encoding":{
"x":{"field":"t","type":"quantitative","scale":{"domain":[-0.1,1],"nice":false,"zero":false},"axis":{"values":[0,0.2,0.4,0.6,0.8,1],"labelExpr":"''+datum.value","title":null,"labelFontSize":27,"ticks":true,"tickSize":-6,"tickWidth":1.5,"labelPadding":20,"labelFlush":false}},
"y":{"field":"v","type":"quantitative","scale":{"domain":[-0.5,0.8],"reverse":true,"nice":false,"zero":false},"axis":{"values":[-0.5,0,0.8],"labelExpr":"''+datum.value","title":"z-score","titleFontSize":25,"titleX":-43,"titleY":101,"titleBaseline":"alphabetic","titleAngle":-90,"titleAlign":"center","labelFontSize":27,"ticks":false,"labelPadding":8,"labelFlush":false}}},
"layer":[
{"transform":[{"filter":"datum.s === 'NEG'"}],"mark":{"type":"errorband","opacity":0.55,"color":"#f47a7a"},"encoding":{"yError":{"field":"w"}}},
{"transform":[{"filter":"datum.s === 'NEU'"}],"mark":{"type":"errorband","opacity":0.55,"color":"#9a9a9a"},"encoding":{"yError":{"field":"w"}}},
{"mark":{"type":"line","strokeWidth":3},"encoding":{"stroke":{"field":"s","type":"nominal","scale":{"domain":["NEU","NEG"],"range":["#000000","#ff0000"]},"legend":{"orient":"none","legendX":262,"legendY":-29,"title":null,"symbolType":"stroke","symbolStrokeWidth":3.5,"symbolSize":441,"labelFontSize":26,"labelFontWeight":"bold","rowPadding":9,"labelOffset":6,"padding":0}}}},
{"data":{"values":[{"t":-0.1,"t2":1,"v":0}]},"mark":{"type":"rule","strokeDash":[8,6],"strokeWidth":1.5,"color":"black"},"encoding":{"x2":{"field":"t2"}}},
{"data":{"values":[{"t":0,"v":-0.5,"v2":0.8}]},"mark":{"type":"rule","strokeDash":[7,5],"strokeWidth":1.5,"color":"black"},"encoding":{"y2":{"field":"v2"}}},
{"data":{"values":[{"t":0.226,"t2":0.4,"v":0.68}]},"mark":{"type":"rule","strokeWidth":6,"color":"black"},"encoding":{"x2":{"field":"t2"}}},
{"data":{"values":[{"t":0.2,"v":-0.475,"v2":-0.39}]},"mark":{"type":"rule","strokeWidth":2,"color":"black"},"encoding":{"y2":{"field":"v2"}}},
{"data":{"values":[{"t":0.43,"t2":0.505,"v":0.4}]},"mark":{"type":"rule","strokeWidth":2,"color":"black"},"encoding":{"x2":{"field":"t2"}}},
{"data":{"values":[{"t":0.2,"v":-0.36,"sh":"triangle-down"},{"t":0.418,"v":0.4,"sh":"triangle-left"}]},"mark":{"type":"point","filled":true,"color":"black","opacity":1,"size":130},"encoding":{"shape":{"field":"sh","type":"nominal","scale":null}}},
{"data":{"values":[{"t":0.2,"v":-0.556,"label":"N200"},{"t":0.65,"v":0.41,"label":"P300"}]},"mark":{"type":"text","fontSize":27,"fontWeight":"bold","font":"Liberation Sans","color":"black","baseline":"middle"},"encoding":{"text":{"field":"label"}}},
{"data":{"values":[{"t":-0.035,"v":-0.8,"label":"F3"}]},"mark":{"type":"text","fontSize":27,"fontWeight":"bold","font":"Liberation Sans","color":"black","baseline":"middle","align":"left"},"encoding":{"text":{"field":"label"}}},
{"data":{"values":[{"t":0.316,"v":0.64,"label":"*"}]},"mark":{"type":"text","fontSize":36,"fontWeight":"bold","font":"Liberation Sans","color":"black","baseline":"middle"},"encoding":{"text":{"field":"label"}}}
]},
{"width":282,"height":287,
"title":{"text":"NEU","subtitle":"200-400 ms","fontSize":28,"fontWeight":"bold","subtitleFontSize":28,"subtitleFontWeight":"bold","subtitlePadding":12,"offset":-21,"anchor":"middle"},
"encoding":{"x":{"field":"i","type":"quantitative","scale":{"domain":[-9.4,9.4],"nice":false,"zero":false},"axis":null},"y":{"field":"j","type":"quantitative","scale":{"domain":[-9.4,9.73],"nice":false,"zero":false},"axis":null}},
"layer":[
{"data":{"name":"neu"},"mark":{"type":"point","shape":"square","filled":true,"opacity":1,"size":256,"strokeWidth":0},"encoding":{"color":{"field":"v","type":"quantitative","scale":{"domain":[-0.3,-0.225,-0.075,0.075,0.225,0.3],"range":["#00007f","#0000ff","#00ffff","#ffff00","#ff0000","#7f0000"],"interpolate":"rgb","clamp":true},"legend":null}}},
{"data":{"name":"neu"},"mark":{"type":"point","shape":"circle","filled":true,"opacity":0.45,"size":500,"strokeWidth":0},"encoding":{"color":{"field":"v","type":"quantitative","legend":null}}},
{"data":{"values":[{"i":0,"j":0}]},"mark":{"type":"point","shape":"circle","filled":false,"stroke":"white","strokeWidth":22,"size":68121,"opacity":1}},
{"data":{"values":[{"i":0,"j":0}]},"mark":{"type":"point","shape":"circle","filled":false,"stroke":"black","strokeWidth":2,"size":57600,"opacity":1}},
{"data":{"name":"head"},"mark":{"type":"line","stroke":"black","strokeWidth":2},"encoding":{"detail":{"field":"part"},"order":{"field":"o"}}},
{"data":{"name":"elec"},"mark":{"type":"point","shape":"circle","filled":true,"color":"black","size":10,"opacity":1}}
]}
],"spacing":116,"resolve":{"scale":{"color":"independent","stroke":"independent"},"legend":{"color":"independent","stroke":"independent"}}},
{"hconcat":[
{"width":381,"height":222,
"data":{"name":"erp2"},
"encoding":{
"x":{"field":"t","type":"quantitative","scale":{"domain":[-0.1,1],"nice":false,"zero":false},"axis":{"values":[0,0.2,0.4,0.6,0.8,1],"labelExpr":"''+datum.value","title":"seconds","titleFontSize":26,"titleAnchor":"end","titlePadding":2,"labelFontSize":28,"ticks":true,"tickSize":-6,"tickWidth":1.5,"labelPadding":23,"labelFlush":false}},
"y":{"field":"v","type":"quantitative","scale":{"domain":[-0.5,0.8],"reverse":true,"nice":false,"zero":false},"axis":{"values":[-0.5,0,0.8],"labelExpr":"''+datum.value","title":null,"labelFontSize":28,"ticks":false,"labelPadding":6,"labelFlush":false}}},
"layer":[
{"transform":[{"filter":"datum.s === 'Control NEG'"}],"mark":{"type":"errorband","opacity":0.5,"color":"#3cc6c6"},"encoding":{"yError":{"field":"w"}}},
{"transform":[{"filter":"datum.s === 'Control NEU'"}],"mark":{"type":"errorband","opacity":0.5,"color":"#5f8f8c"},"encoding":{"yError":{"field":"w"}}},
{"mark":{"type":"line","strokeWidth":2.5},"encoding":{"stroke":{"field":"s","type":"nominal","scale":{"domain":["Control NEU","Control NEG"],"range":["#1d5c59","#1cb8ba"]},"legend":{"orient":"none","legendX":259,"legendY":-21,"title":null,"symbolType":"stroke","symbolStrokeWidth":3,"symbolSize":441,"labelFontSize":23,"labelFontWeight":"bold","rowPadding":0,"labelOffset":9,"padding":0}}}},
{"data":{"values":[{"t":-0.1,"t2":1,"v":0}]},"mark":{"type":"rule","strokeDash":[5,4],"strokeWidth":1.5,"color":"black"},"encoding":{"x2":{"field":"t2"}}},
{"data":{"values":[{"t":0,"v":-0.5,"v2":0.8}]},"mark":{"type":"rule","strokeDash":[5,4],"strokeWidth":1.5,"color":"black"},"encoding":{"y2":{"field":"v2"}}},
{"data":{"values":[{"t":0.28,"v":0.57,"label":"n.s."}]},"mark":{"type":"text","fontSize":24,"fontWeight":"bold","font":"Liberation Sans","color":"black","baseline":"middle"},"encoding":{"text":{"field":"label"}}},
{"data":{"values":[{"t":-0.057,"v":-0.687,"label":"F3"}]},"mark":{"type":"text","fontSize":27,"fontWeight":"bold","font":"Liberation Sans","color":"black","baseline":"middle","align":"left"},"encoding":{"text":{"field":"label"}}}
]},
{"width":282,"height":285,
"title":{"text":"NEG","subtitle":"200-400 ms","fontSize":28,"fontWeight":"bold","subtitleFontSize":28,"subtitleFontWeight":"bold","subtitlePadding":9,"offset":-24,"anchor":"middle"},
"encoding":{"x":{"field":"i","type":"quantitative","scale":{"domain":[-9.4,9.4],"nice":false,"zero":false},"axis":null},"y":{"field":"j","type":"quantitative","scale":{"domain":[-8.33,10.67],"nice":false,"zero":false},"axis":null}},
"layer":[
{"data":{"name":"neg"},"mark":{"type":"point","shape":"square","filled":true,"opacity":1,"size":256,"strokeWidth":0},"encoding":{"color":{"field":"v","type":"quantitative","scale":{"domain":[-0.3,-0.225,-0.075,0.075,0.225,0.3],"range":["#00007f","#0000ff","#00ffff","#ffff00","#ff0000","#7f0000"],"interpolate":"rgb","clamp":true},"legend":{"orient":"none","legendX":292,"legendY":38,"direction":"vertical","gradientLength":238,"gradientThickness":27,"gradientStrokeColor":"black","gradientStrokeWidth":1,"values":[-0.3,0,0.3],"labelExpr":"''+datum.value","labelFontSize":22,"labelOffset":5,"title":["Voltage","(z-score)"],"titleOrient":"right","titleFontSize":24,"titleFontWeight":"bold","titleLineHeight":25,"titlePadding":4,"titleAnchor":"middle","padding":0}}}},
{"data":{"name":"neg"},"mark":{"type":"point","shape":"circle","filled":true,"opacity":0.45,"size":500,"strokeWidth":0},"encoding":{"color":{"field":"v","type":"quantitative","legend":null}}},
{"data":{"values":[{"i":0,"j":0}]},"mark":{"type":"point","shape":"circle","filled":false,"stroke":"white","strokeWidth":22,"size":68121,"opacity":1}},
{"data":{"values":[{"i":0,"j":0}]},"mark":{"type":"point","shape":"circle","filled":false,"stroke":"black","strokeWidth":2,"size":57600,"opacity":1}},
{"data":{"name":"head"},"mark":{"type":"line","stroke":"black","strokeWidth":2},"encoding":{"detail":{"field":"part"},"order":{"field":"o"}}},
{"data":{"name":"elec"},"mark":{"type":"point","shape":"circle","filled":true,"color":"black","size":10,"opacity":1}}
]}
],"spacing":29,"resolve":{"scale":{"color":"independent","stroke":"independent"},"legend":{"color":"independent","stroke":"independent"}}}
],
"spacing":-10,
"resolve":{"scale":{"color":"independent","stroke":"independent"},"legend":{"color":"independent","stroke":"independent"}}
}
